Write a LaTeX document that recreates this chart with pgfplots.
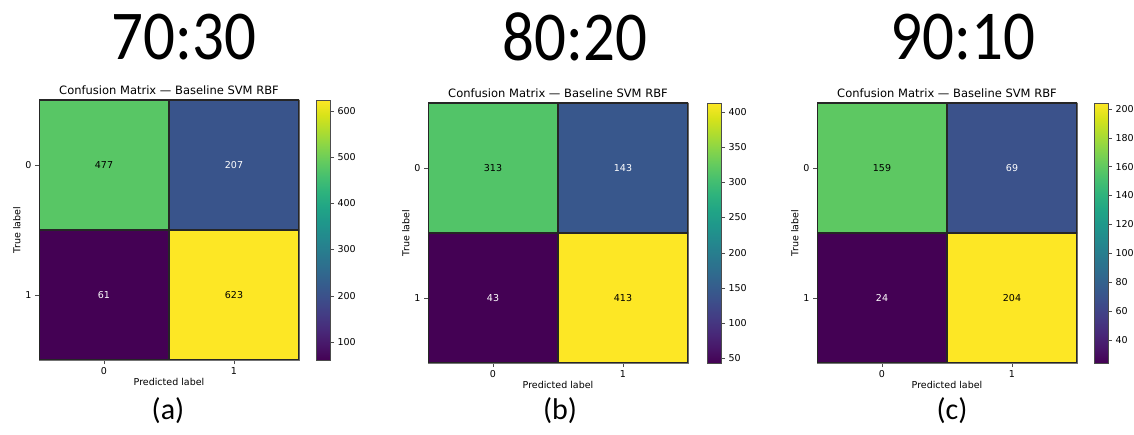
\documentclass[border=0pt]{standalone}
\usepackage{fontspec}
\usepackage{graphicx}
\usepackage{pgfplots}
\usepackage{pgfplotstable}
\pgfplotsset{compat=1.18}
\newfontfamily\dejavu{DejaVu Sans}
\newfontfamily\carlito{Carlito}

\pgfplotstableread{
x y C
0 0 477
1 0 207
0 1 61
1 1 623
}\dataA
\pgfplotstableread{
x y C
0 0 313
1 0 143
0 1 43
1 1 413
}\dataB
\pgfplotstableread{
x y C
0 0 159
1 0 69
0 1 24
1 1 204
}\dataC

\pgfplotsset{
  cm/.style={
    scale only axis, width=260pt, height=260pt,
    xmin=-0.5, xmax=1.5, ymin=-0.5, ymax=1.5, y dir=reverse,
    enlargelimits=false,
    xtick={0,1}, ytick={0,1}, tick align=outside,
    xtick pos=bottom, ytick pos=left,
    major tick length=4pt,
    tick style={black!70},
    tick label style={font=\dejavu\fontsize{9.5}{11}\selectfont},
    /pgf/number format/assume math mode=true,
    xlabel={Predicted label}, ylabel={True label},
    label style={font=\dejavu\fontsize{9.5}{11}\selectfont},
    xlabel style={yshift=3pt},
    ylabel style={yshift=-2pt},
    title={Confusion Matrix — Baseline SVM RBF},
    title style={font=\dejavu\fontsize{11.5}{13}\selectfont, yshift=-4pt},
    axis line style={black!55},
    colormap/viridis, colorbar,
  },
  cbar/.style 2 args={
    colorbar shift/.style={xshift=#1},
    colorbar style={
      at={(parent axis.north east)}, anchor=north west,
      width=14pt, ytick={#2}, ytick pos=right, tick align=outside,
      major tick length=4pt,
      tick label style={font=\dejavu\fontsize{9.5}{11}\selectfont},
      /pgf/number format/assume math mode=true,
      axis line style={black!70},
    },
  },
  cells/.style={matrix plot*, mesh/cols=2, point meta=explicit,
    shader=faceted, faceted color=black!85, line width=1.2pt},
  celltext/.style={only marks, mark=*, mark size=0pt,
    nodes near coords={\pgfplotspointmeta},
    point meta=explicit symbolic,
    nodes near coords style={anchor=center, text=#1,
      font=\dejavu\fontsize{9.5}{11}\selectfont}},
}

\begin{document}
\begin{tikzpicture}[x=1pt,y=1pt]
\useasboundingbox (0,0) rectangle (1134,435);

% (a)
\begin{axis}[cm, at={(39pt,75pt)}, anchor=south west,
  point meta min=61, point meta max=623,
  cbar={17pt}{100,200,300,400,500,600}]
\addplot[cells] table[meta=C] {\dataA};
\addplot[celltext=black] coordinates {(0,0)[477] (1,1)[623]};
\addplot[celltext=white] coordinates {(1,0)[207] (0,1)[61]};
\end{axis}

% (b)
\begin{axis}[cm, at={(428pt,72pt)}, anchor=south west,
  point meta min=43, point meta max=413,
  cbar={19pt}{50,100,150,200,250,300,350,400}]
\addplot[cells] table[meta=C] {\dataB};
\addplot[celltext=black] coordinates {(0,0)[313] (1,1)[413]};
\addplot[celltext=white] coordinates {(1,0)[143] (0,1)[43]};
\end{axis}

% (c)
\begin{axis}[cm, at={(817pt,72pt)}, anchor=south west,
  point meta min=24, point meta max=204,
  cbar={17pt}{40,60,80,100,120,140,160,180,200}]
\addplot[cells] table[meta=C] {\dataC};
\addplot[celltext=black] coordinates {(0,0)[159] (1,1)[204]};
\addplot[celltext=white] coordinates {(1,0)[69] (0,1)[24]};
\end{axis}

\node[font=\carlito\fontsize{70}{80}\selectfont] at (184,398) {\scalebox{0.9}[1]{70:30}};
\node[font=\carlito\fontsize{70}{80}\selectfont] at (575,398) {\scalebox{0.9}[1]{80:20}};
\node[font=\carlito\fontsize{70}{80}\selectfont] at (963,398) {\scalebox{0.9}[1]{90:10}};

\node[font=\carlito\fontsize{30}{36}\selectfont] at (168,24) {(a)};
\node[font=\carlito\fontsize{30}{36}\selectfont] at (560,24) {(b)};
\node[font=\carlito\fontsize{30}{36}\selectfont] at (952,24) {(c)};
\end{tikzpicture}
\end{document}
